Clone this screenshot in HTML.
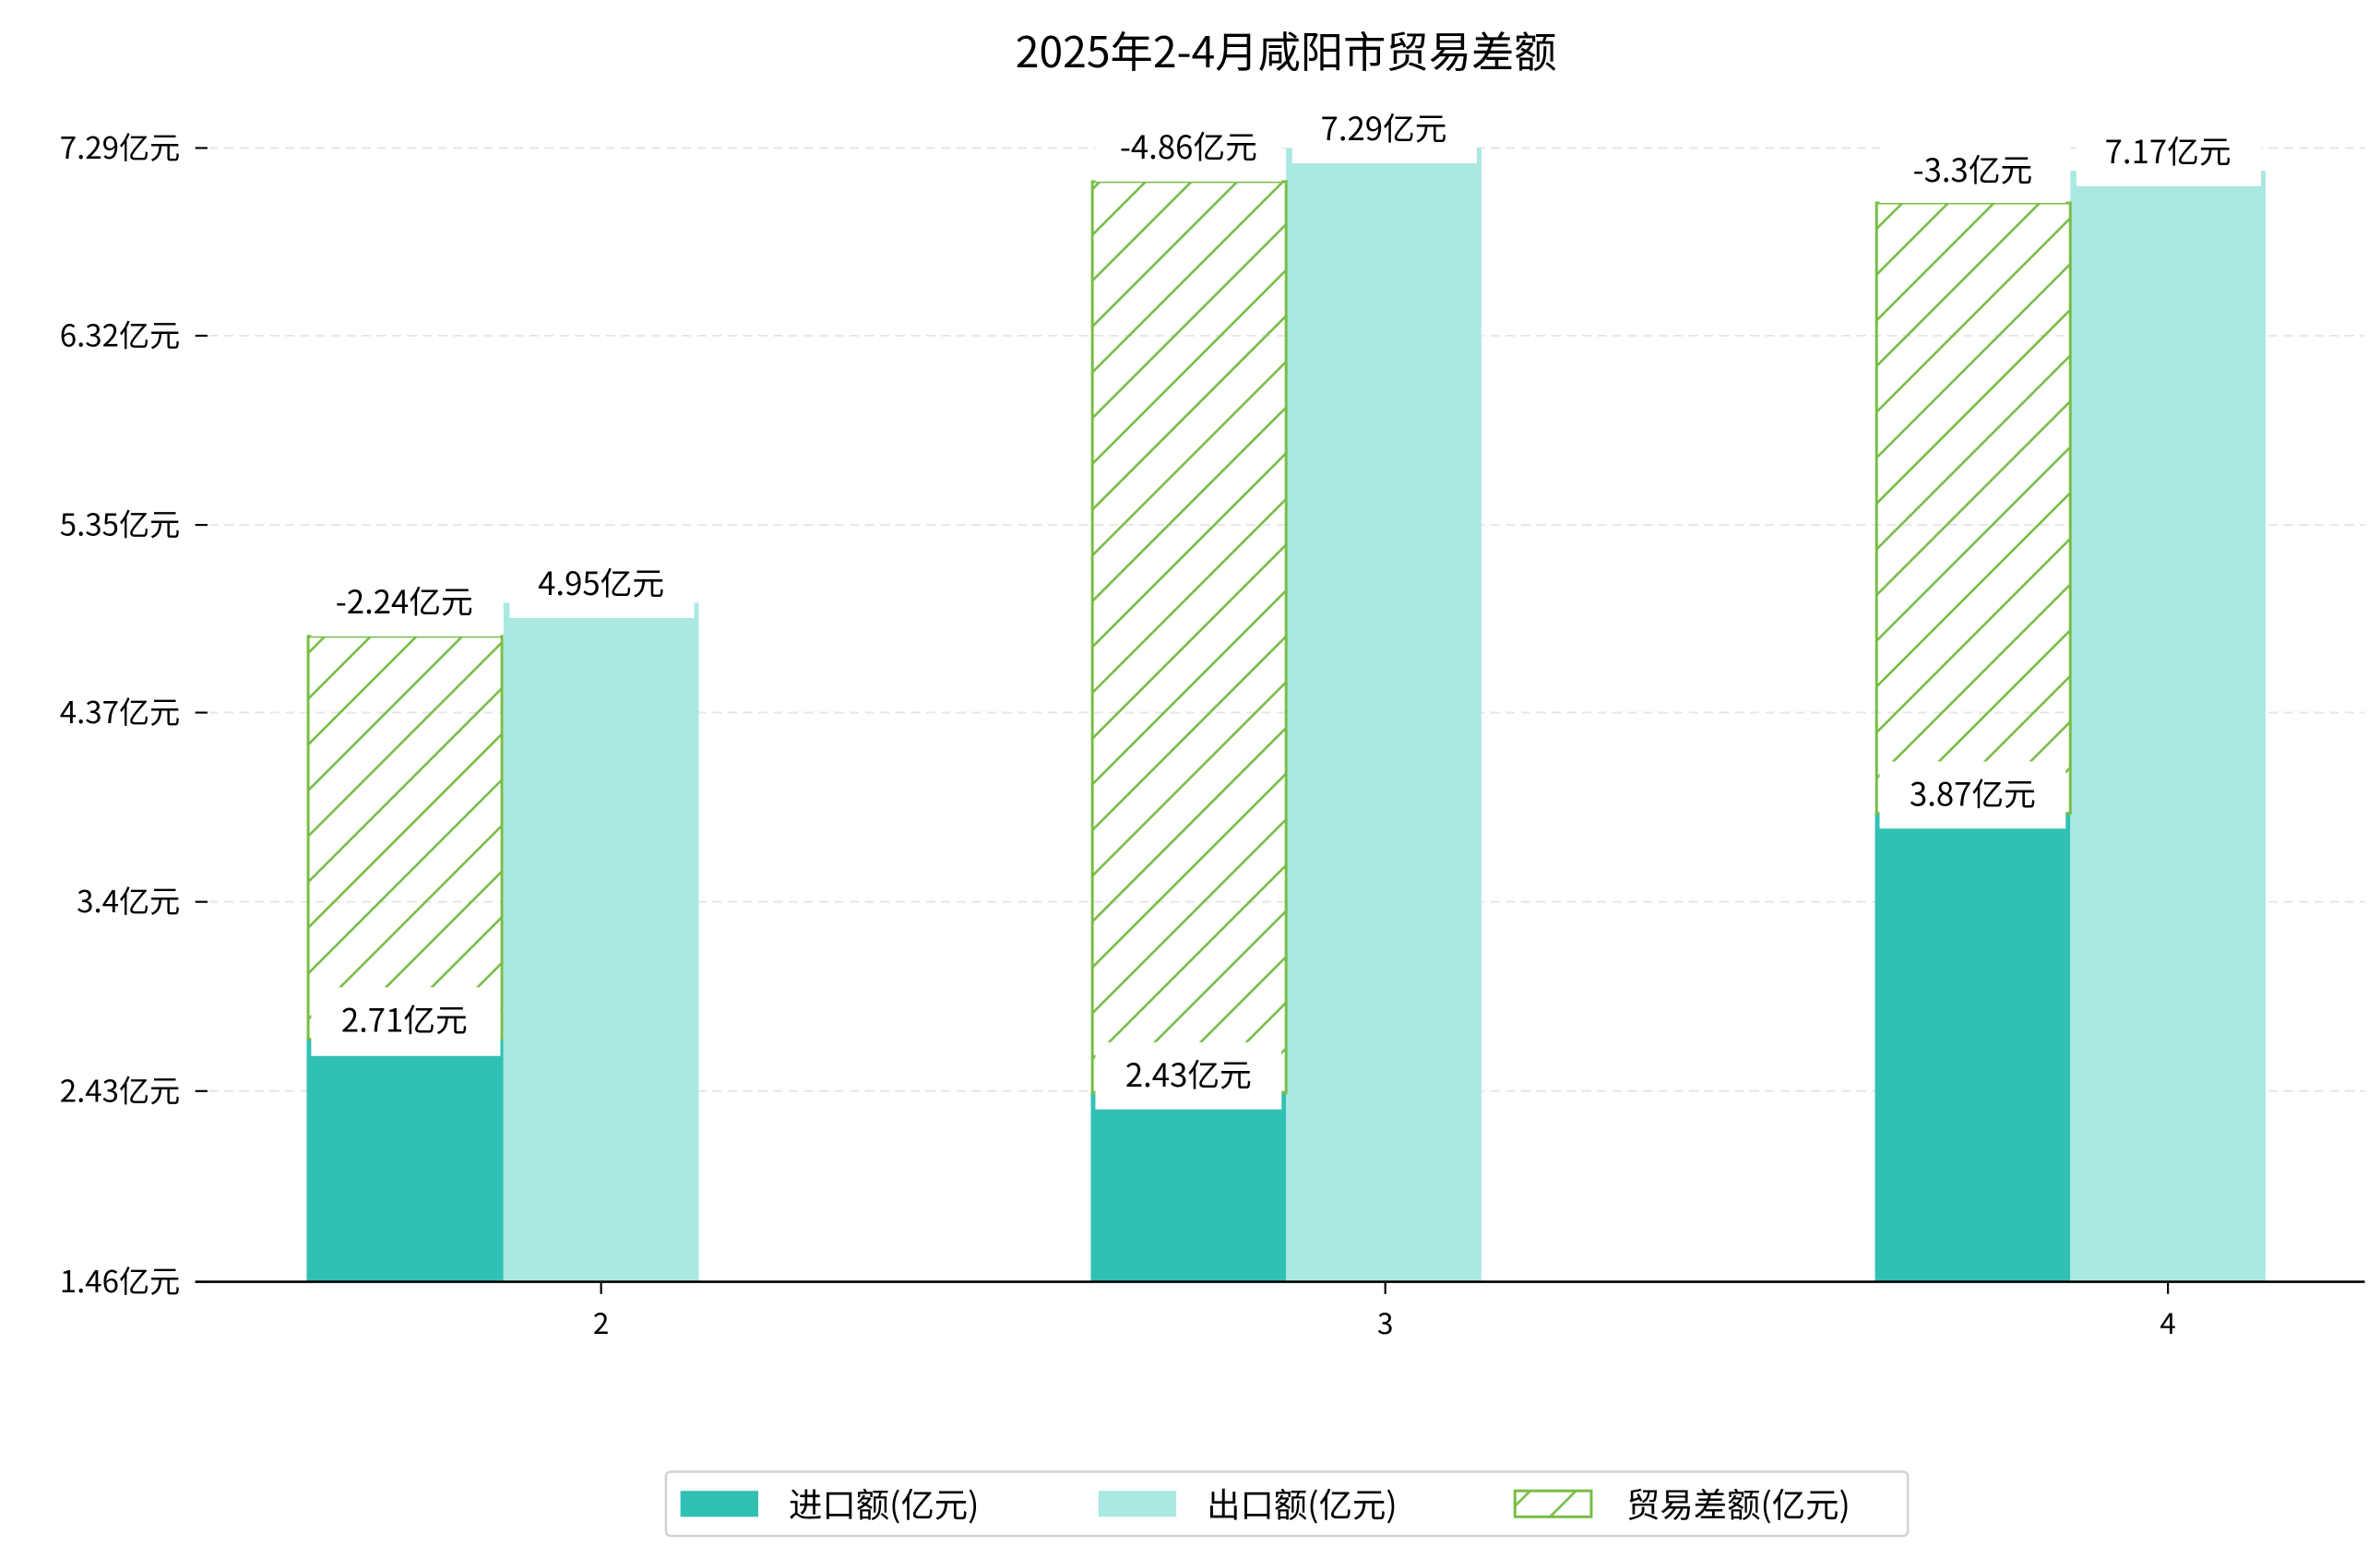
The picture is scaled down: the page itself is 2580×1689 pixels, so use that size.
<!DOCTYPE html>
<html><head><meta charset="utf-8"><style>
html,body{margin:0;padding:0;background:#fff;}
svg{display:block;}
text{font-family:"WenQuanYi Zen Hei","Noto Sans CJK SC",sans-serif;fill:#000;}
</style></head><body>
<svg width="2580" height="1689" viewBox="0 0 1560 1021" preserveAspectRatio="none" xmlns="http://www.w3.org/2000/svg">
<defs>
<pattern id="h" patternUnits="userSpaceOnUse" width="30" height="30">
<path d="M-5,35 L35,-5 M-35,35 L35,-35 M-5,65 L65,-5" stroke="#77bd45" stroke-width="1.6" fill="none"/>
</pattern>
</defs>
<text x="843" y="44" font-size="28" text-anchor="middle">2025年2-4月咸阳市贸易差额</text>
<g stroke="#e6e6e6" stroke-width="1.2" stroke-dasharray="6,4">
<line x1="137" x2="1550" y1="97" y2="97"/><line x1="137" x2="1550" y1="220" y2="220"/>
<line x1="137" x2="1550" y1="344" y2="344"/><line x1="137" x2="1550" y1="467" y2="467"/>
<line x1="137" x2="1550" y1="591" y2="591"/><line x1="137" x2="1550" y1="715" y2="715"/>
</g>
<g stroke="#000" stroke-width="1.3">
<line x1="128" x2="136" y1="97" y2="97"/><line x1="128" x2="136" y1="220" y2="220"/>
<line x1="128" x2="136" y1="344" y2="344"/><line x1="128" x2="136" y1="467" y2="467"/>
<line x1="128" x2="136" y1="591" y2="591"/><line x1="128" x2="136" y1="715" y2="715"/>
<line x1="128" x2="136" y1="840" y2="840"/>
</g>
<g font-size="20" text-anchor="end">
<text x="118" y="104">7.29亿元</text><text x="118" y="227">6.32亿元</text>
<text x="118" y="351">5.35亿元</text><text x="118" y="474">4.37亿元</text>
<text x="118" y="598">3.4亿元</text><text x="118" y="722">2.43亿元</text>
<text x="118" y="847">1.46亿元</text>
</g>
<rect x="201" y="681" width="129" height="159" fill="#31c1b4"/>
<rect x="330" y="395" width="128" height="445" fill="#aae8e2"/>
<rect x="715" y="716" width="128" height="124" fill="#31c1b4"/>
<rect x="843" y="97" width="128" height="743" fill="#aae8e2"/>
<rect x="1229" y="533" width="128" height="307" fill="#31c1b4"/>
<rect x="1357" y="112" width="128" height="728" fill="#aae8e2"/>
<g stroke="#77bd45" stroke-width="1.8">
<rect x="202" y="417" width="127" height="264" fill="url(#h)"/>
<rect x="716" y="119" width="127" height="597" fill="url(#h)"/>
<rect x="1230" y="133" width="127" height="400" fill="url(#h)"/>
</g>
<g fill="#fff">
<rect x="204" y="373" width="124" height="44"/>
<rect x="334" y="361" width="121" height="44"/>
<rect x="204" y="647" width="124" height="45"/>
<rect x="718" y="75" width="122" height="44"/>
<rect x="847" y="63" width="121" height="44"/>
<rect x="718" y="683" width="122" height="44"/>
<rect x="1232" y="90" width="122" height="43"/>
<rect x="1361" y="78" width="121" height="44"/>
<rect x="1232" y="499" width="122" height="44"/>
</g>
<g font-size="21" text-anchor="middle">
<text x="265" y="402">-2.24亿元</text>
<text x="394" y="390">4.95亿元</text>
<text x="265" y="676">2.71亿元</text>
<text x="779" y="104">-4.86亿元</text>
<text x="907" y="92">7.29亿元</text>
<text x="779" y="712">2.43亿元</text>
<text x="1293" y="119">-3.3亿元</text>
<text x="1421" y="107">7.17亿元</text>
<text x="1293" y="528">3.87亿元</text>
</g>
<line x1="128" x2="1550" y1="840" y2="840" stroke="#000" stroke-width="1.6"/>
<g stroke="#000" stroke-width="1.3">
<line x1="394" x2="394" y1="840" y2="848"/><line x1="908" x2="908" y1="840" y2="848"/><line x1="1421" x2="1421" y1="840" y2="848"/>
</g>
<g font-size="19" text-anchor="middle">
<text x="394" y="874">2</text><text x="908" y="874">3</text><text x="1421" y="874">4</text>
</g>
<rect x="436.5" y="964.5" width="814" height="42" rx="3" fill="#fff" stroke="#d2d2d2" stroke-width="1.5"/>
<rect x="446" y="977" width="51" height="17" fill="#31c1b4"/>
<rect x="720" y="977" width="51" height="17" fill="#aae8e2"/>
<rect x="993" y="977" width="50" height="17" fill="url(#h)" stroke="#77bd45" stroke-width="1.8"/>
<g font-size="22">
<text x="517" y="994">进口额(亿元)</text>
<text x="791" y="994">出口额(亿元)</text>
<text x="1066" y="994">贸易差额(亿元)</text>
</g>
</svg>
</body></html>
